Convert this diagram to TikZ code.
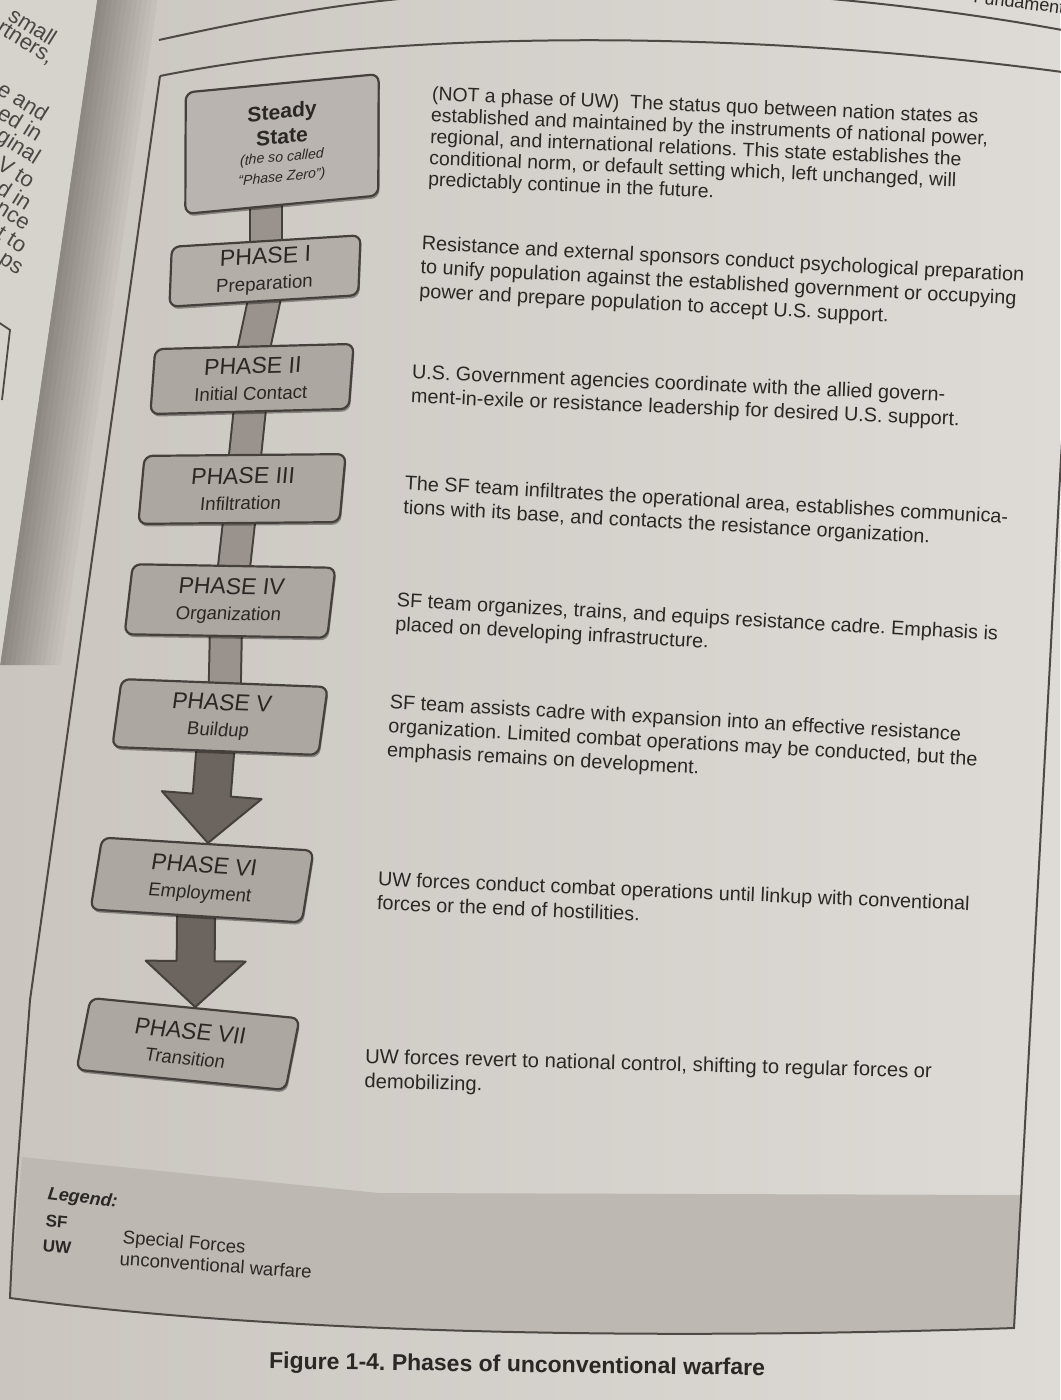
\documentclass[tikz,border=0pt]{standalone}
\usepackage{fontspec}
\setmainfont{Liberation Sans}
\usetikzlibrary{calc,shadows}
\pgfdeclarelayer{paper}
\pgfdeclarelayer{background}
\pgfsetlayers{paper,background,main}
\definecolor{pageL}{HTML}{CAC5BF}
\definecolor{pageR}{HTML}{DEDBD6}
\definecolor{band}{HTML}{BDB8B2}
\definecolor{boxfill}{HTML}{ADA7A1}
\definecolor{boxline}{HTML}{45403C}
\definecolor{barfill}{HTML}{9A938D}
\definecolor{arrowfill}{HTML}{6C655F}
\definecolor{ink}{HTML}{2B2724}
\definecolor{rulecol}{HTML}{4E4945}
\definecolor{gutter}{HTML}{8E8882}
\definecolor{leftpage}{HTML}{D6D2CC}
\tikzset{
  phasebox/.style={draw=boxline, fill=boxfill, line width=1.1pt, rounded corners=4pt,
    align=center, inner sep=0pt, text=ink, xslant=0.1,
    font=\fontsize{9.3}{13}\selectfont,
    drop shadow={shadow xshift=0.6pt, shadow yshift=-1.3pt, opacity=0.35, fill=black}},
  desc/.style={anchor=north west, align=left, inner sep=0pt, text=ink,
    font=\fontsize{9.9}{12}\selectfont},
  connbar/.style={draw=boxline, line width=1pt, double=barfill, double distance=15pt,
    shorten <=-4pt, shorten >=-4pt},
  blockarrow/.style={draw=boxline, fill=arrowfill, line width=1pt, line join=round},
  figframe/.style={draw=rulecol, line width=1pt},
  legtext/.style={anchor=base west, inner sep=0pt, text=ink},
  sidetext/.style={anchor=east, inner sep=0pt, text=ink!85, rotate=-32,
    font=\fontsize{11}{13}\selectfont},
}
\newcommand\phtitle[1]{{\fontsize{11.5}{13}\selectfont #1}}
\begin{document}
\frenchspacing
\begin{tikzpicture}[x=0.5pt, y=-0.5pt]
\useasboundingbox (0,0) rectangle (1060,1400);

% ---------- paper, page edge, frame ----------
\begin{pgfonlayer}{paper}
  \shade[left color=pageL, right color=pageR] (0,0) rectangle (1060,1400);
  \foreach \i [evaluate=\i as \p using {100-\i*8.3}] in {0,...,11}
    \fill[gutter!\p!pageL] ($(97,0)+(\i*5,0)$) -- ++(5.5,0) -- ($(0,665)+(\i*5+5.5,0)$) -- ++(-5.5,0) -- cycle;
  \fill[leftpage] (0,0) -- (97,0) -- (0,665) -- cycle;
  \fill[band] (22,1157) -- (379,1193) -- (1021,1195) -- (1014,1328)
     .. controls (600,1342) and (250,1330) .. (10,1298) -- cycle;
\end{pgfonlayer}

\draw[rulecol, line width=1pt] (159,40) .. controls (250,20) and (330,5) .. (410,-2);
\draw[rulecol, line width=1pt] (820,-2) .. controls (900,5) and (980,15) .. (1062,30);
\node[anchor=base east, inner sep=0pt, rotate=-7, text=ink, font=\fontsize{9}{10}\selectfont] (hdr) at (1064,14) {Fundament};

\draw[figframe] (160,76) .. controls (400,28) and (750,30) .. (1062,72);
\draw[figframe] (1062,440) -- (1031,1013) -- (1014,1328)
   .. controls (600,1342) and (250,1330) .. (10,1298)
   .. controls (14,1200) and (22,1110) .. (30,1000) -- (160,76);

% left page fragments
\node[sidetext] (l1) at (55,40) {small};
\node[sidetext] (l2) at (52,60) {rtners,};
\node[sidetext] (l3) at (47,116) {e and};
\node[sidetext] (l4) at (41,136) {ed in};
\node[sidetext] (l5) at (38,160) {ginal};
\node[sidetext] (l6) at (33,183) {V to};
\node[sidetext] (l7) at (30,205) {d in};
\node[sidetext] (l8) at (28,226) {nce};
\node[sidetext] (l9) at (25,248) {t to};
\node[sidetext] (l10) at (20,272) {ps};
\draw[rulecol, line width=0.9pt] (-2,322) -- (10,330) -- (2,400);

% ---------- phase boxes ----------
\node[phasebox, fill=boxfill!85!white, minimum width=96pt, minimum height=61pt, rotate=5.5,
      font=\fontsize{10.5}{12.5}\selectfont] (ss) at (282,144)
  {{\bfseries Steady}\\{\bfseries State}\\[-3.5pt]{\fontsize{7}{9}\selectfont\itshape (the so called}\\[-2.5pt]{\fontsize{7}{9}\selectfont\itshape “Phase Zero”)}};
\node[phasebox, fill=boxfill!92!white, minimum width=94pt, minimum height=30pt, rotate=3.5] (p1) at (265,271)
  {\phtitle{PHASE I}\\Preparation};
\node[phasebox, minimum width=99pt, minimum height=32.5pt, rotate=1.5] (p2) at (252,379)
  {\phtitle{PHASE II}\\Initial Contact};
\node[phasebox, minimum width=100.5pt, minimum height=34pt, rotate=0.5] (p3) at (242,489)
  {\phtitle{PHASE III}\\Infiltration};
\node[phasebox, minimum width=101.5pt, minimum height=35pt, rotate=-1] (p4) at (230,601)
  {\phtitle{PHASE IV}\\Organization};
\node[phasebox, minimum width=103.5pt, minimum height=34pt, rotate=-2.2] (p5) at (220,717)
  {\phtitle{PHASE V}\\Buildup};
\node[phasebox, minimum width=106.5pt, minimum height=36pt, rotate=-3.5] (p6) at (202,880)
  {\phtitle{PHASE VI}\\Employment};
\node[phasebox, minimum width=106pt, minimum height=36pt, rotate=-5.5] (p7) at (188,1044)
  {\phtitle{PHASE VII}\\Transition};

% ---------- connectors ----------
\begin{pgfonlayer}{background}
  \draw[connbar] (p1.north |- ss.south) -- (p1.north);
  \draw[connbar] (p1.south) -- (p2.north);
  \draw[connbar] (p2.south) -- (p3.north);
  \draw[connbar] (p3.south) -- (p4.north);
  \draw[connbar] (p4.south) -- (p5.north);
  % block arrow V -> VI
  \coordinate (a5) at ($(p5.south)!-8pt!(p6.north)$);
  \coordinate (t6) at (p6.north);
  \coordinate (h6) at ($(t6)!24pt!(p5.south)$);
  \draw[blockarrow] ($(a5)!9.5pt!90:(t6)$) -- ($(h6)!9.5pt!90:(t6)$) -- ($(h6)!25pt!90:(t6)$)
     -- (t6) -- ($(h6)!25pt!-90:(t6)$) -- ($(h6)!9.5pt!-90:(t6)$) -- ($(a5)!9.5pt!-90:(t6)$) -- cycle;
  % block arrow VI -> VII
  \coordinate (a6) at ($(p6.south)!-8pt!(p7.north)$);
  \coordinate (t7) at (p7.north);
  \coordinate (h7) at ($(t7)!23pt!(p6.south)$);
  \draw[blockarrow] ($(a6)!9.5pt!90:(t7)$) -- ($(h7)!9.5pt!90:(t7)$) -- ($(h7)!25pt!90:(t7)$)
     -- (t7) -- ($(h7)!25pt!-90:(t7)$) -- ($(h7)!9.5pt!-90:(t7)$) -- ($(a6)!9.5pt!-90:(t7)$) -- cycle;
\end{pgfonlayer}

% ---------- descriptions ----------
\node[desc, rotate=-2.4, font=\fontsize{9.7}{10.7}\selectfont] (d0) at (432,86)
  {(NOT a phase of UW)\ \ The status quo between nation states as\\
   established and maintained by the instruments of national power,\\
   regional, and international relations. This state establishes the\\
   conditional norm, or default setting which, left unchanged, will\\
   predictably continue in the future.};
\node[desc, rotate=-3] (d1) at (422,235)
  {Resistance and external sponsors conduct psychological preparation\\
   to unify population against the established government or occupying\\
   power and prepare population to accept U.S. support.};
\node[desc, rotate=-2.4] (d2) at (412,364)
  {U.S. Government agencies coordinate with the allied govern-\\
   ment-in-exile or resistance leadership for desired U.S. support.};
\node[desc, rotate=-3.2] (d3) at (405,475)
  {The SF team infiltrates the operational area, establishes communica-\\
   tions with its base, and contacts the resistance organization.};
\node[desc, rotate=-3.2] (d4) at (397,592)
  {SF team organizes, trains, and equips resistance cadre. Emphasis is\\
   placed on developing infrastructure.};
\node[desc, rotate=-3.2] (d5) at (390,694)
  {SF team assists cadre with expansion into an effective resistance\\
   organization. Limited combat operations may be conducted, but the\\
   emphasis remains on development.};
\node[desc, rotate=-2.4] (d6) at (378,871)
  {UW forces conduct combat operations until linkup with conventional\\
   forces or the end of hostilities.};
\node[desc, rotate=-1.5, font=\fontsize{10.1}{12.4}\selectfont] (d7) at (365,1048)
  {UW forces revert to national control, shifting to regular forces or\\
   demobilizing.};

% ---------- legend ----------
\node[legtext, rotate=-7, font=\fontsize{9}{10}\selectfont\bfseries\itshape] (lg) at (47,1199) {Legend:};
\node[legtext, rotate=-5, font=\fontsize{8.5}{10}\selectfont\bfseries] (lsf) at (45,1226) {SF};
\node[legtext, rotate=-5, font=\fontsize{8.5}{10}\selectfont\bfseries] (luw) at (42,1251) {UW};
\node[legtext, rotate=-5, font=\fontsize{9.3}{10}\selectfont] (lsfx) at (122,1243) {Special Forces};
\node[legtext, rotate=-4, font=\fontsize{9.3}{10}\selectfont] (luwx) at (119,1265) {unconventional warfare};

% ---------- caption ----------
\node[anchor=base, inner sep=0pt, text=ink, rotate=-0.8, font=\fontsize{11.5}{13}\selectfont\bfseries] (cap) at (517,1372)
  {Figure 1-4. Phases of unconventional warfare};
\end{tikzpicture}
\end{document}
